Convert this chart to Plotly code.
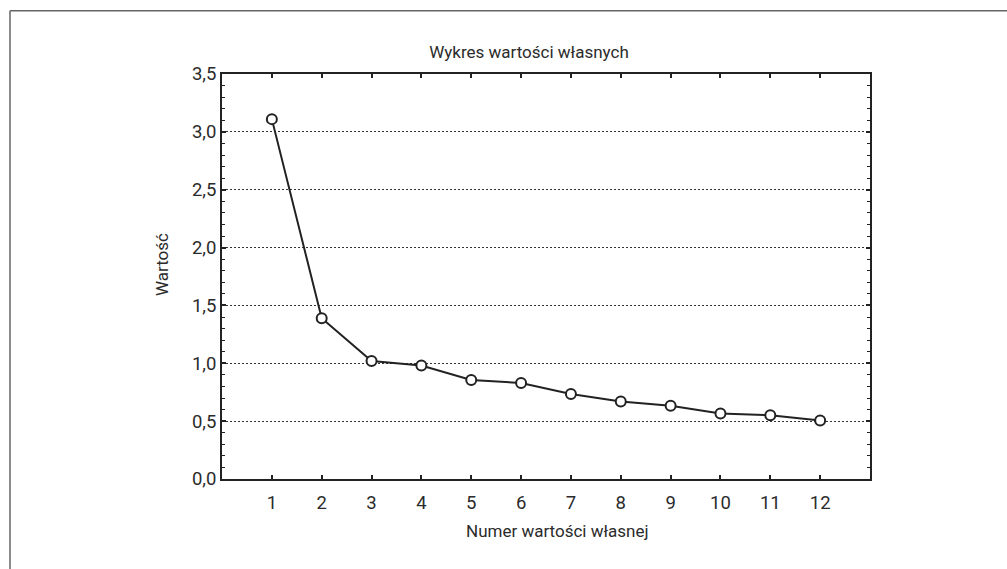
import plotly.graph_objects as go

# Eigenvalue scree plot
numbers = list(range(1, 13))
eigenvalues = [3.11, 1.39, 1.02, 0.98, 0.855, 0.83, 0.735, 0.67, 0.633, 0.567, 0.55, 0.505]
y_ticks = [0.0, 0.5, 1.0, 1.5, 2.0, 2.5, 3.0, 3.5]

title_text = "Wykres wartości własnych"
x_title = "Numer wartości własnej"
y_title = "Wartość"

W, H = 1007, 569
L, R, T, B = 222, 137, 73.5, 89.5
plot_w = W - L - R
plot_h = H - T - B

FONT = "Roboto"
INK = "#222222"
TEXT = "#2b2b2b"


def px_x(v):
    return (v - L) / plot_w


def px_y(v):
    return (H - B - v) / plot_h


fig = go.Figure()
fig.add_trace(go.Scatter(
    x=numbers,
    y=eigenvalues,
    mode="lines+markers",
    line=dict(color=INK, width=2),
    marker=dict(symbol="circle", size=10, color="white",
                line=dict(color=INK, width=2)),
    showlegend=False,
    cliponaxis=False,
))

# outer frame (left and top edges)
frame = dict(type="line", xref="paper", yref="paper",
             line=dict(color="#666666", width=1.5))
fig.add_shape(x0=px_x(10), x1=px_x(10), y0=px_y(H + 5), y1=px_y(10), **frame)
fig.add_shape(x0=px_x(10), x1=px_x(W + 5), y0=px_y(10), y1=px_y(10), **frame)

# axis titles
fig.add_annotation(text=x_title, xref="paper", yref="paper",
                   x=px_x(557), y=px_y(532), xanchor="center", yanchor="middle",
                   showarrow=False, font=dict(family=FONT, size=17, color=TEXT))
fig.add_annotation(text=y_title, xref="paper", yref="paper", textangle=-90,
                   x=px_x(162), y=px_y(265), xanchor="center", yanchor="middle",
                   showarrow=False, font=dict(family=FONT, size=17, color=TEXT))

fig.update_layout(
    width=W, height=H,
    margin=dict(l=L, r=R, t=T, b=B, pad=0),
    paper_bgcolor="white",
    plot_bgcolor="white",
    separators=", ",
    font=dict(family=FONT, color=TEXT),
    title=dict(text=title_text, font=dict(family=FONT, size=17, color=TEXT),
               x=px_x(529), xref="paper", xanchor="center",
               y=1 - 52.5 / H, yref="container", yanchor="middle"),
)

fig.update_xaxes(
    range=[0, 13],
    tickmode="array", tickvals=numbers, ticktext=[str(n) for n in numbers],
    ticks="inside", ticklen=4, tickwidth=1.5, tickcolor=INK,
    showline=True, linecolor=INK, linewidth=1.8, mirror="ticks",
    showgrid=False, zeroline=False, ticklabelstandoff=6,
    tickfont=dict(family=FONT, size=18.5, color=TEXT),
)

fig.update_yaxes(
    range=[0, 3.5],
    tickmode="array", tickvals=y_ticks, tickformat=".1f",
    ticks="inside", ticklen=4, tickwidth=1.5, tickcolor=INK,
    minor=dict(dtick=0.1, ticks="inside", ticklen=3, tickwidth=1.2,
               tickcolor=INK, showgrid=False),
    showline=True, linecolor=INK, linewidth=1.8, mirror="ticks",
    showgrid=True, gridcolor="#333333", gridwidth=1.3, griddash="1.5px,2.5px",
    zeroline=False,
    tickfont=dict(family=FONT, size=18.5, color=TEXT),
)

fig.write_html("out.html")
